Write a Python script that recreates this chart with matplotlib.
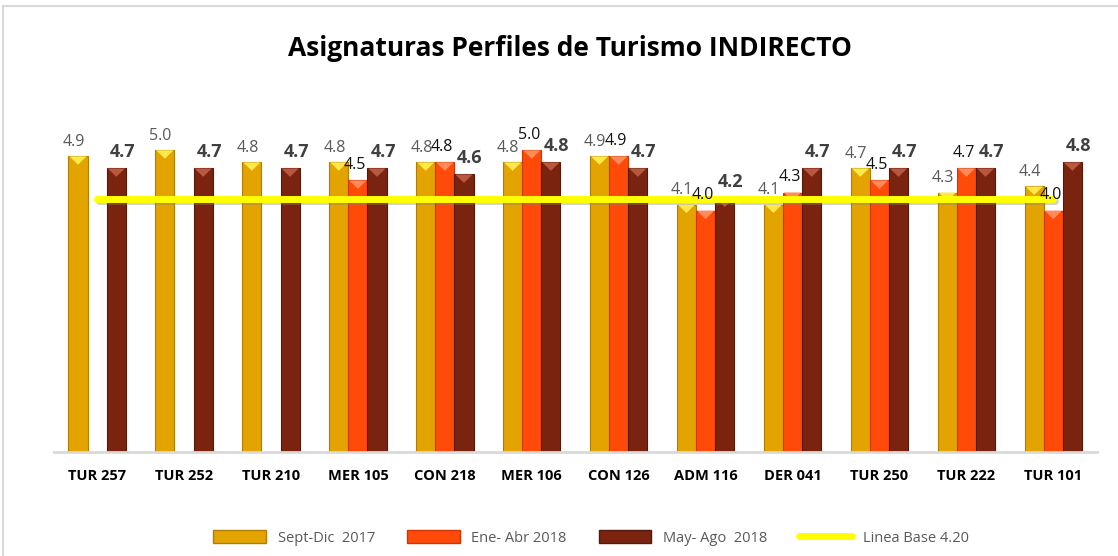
import matplotlib
matplotlib.use("Agg")
import matplotlib.pyplot as plt
import matplotlib.patheffects as pe
from matplotlib.patches import Polygon, Rectangle, Patch
from matplotlib.lines import Line2D
import numpy as np

categories = ["TUR 257", "TUR 252", "TUR 210", "MER 105", "CON 218", "MER 106",
              "CON 126", "ADM 116", "DER 041", "TUR 250", "TUR 222", "TUR 101"]
sept_dic_2017 = [4.9, 5.0, 4.8, 4.8, 4.8, 4.8, 4.9, 4.1, 4.1, 4.7, 4.3, 4.4]
ene_abr_2018 = [None, None, None, 4.5, 4.8, 5.0, 4.9, 4.0, 4.3, 4.5, 4.7, 4.0]
may_ago_2018 = [4.7, 4.7, 4.7, 4.7, 4.6, 4.8, 4.7, 4.2, 4.7, 4.7, 4.7, 4.8]
linea_base = [4.2, 4.2, 4.2, 4.2, 4.2, 4.2, 4.2, 4.2, 4.2, 4.2, 4.2, 4.2]

series_names = ["Sept-Dic  2017", "Ene- Abr 2018", "May- Ago  2018"]
line_name = "Linea Base 4.20"

fig = plt.figure(figsize=(11.18, 5.56), dpi=100)
fig.patches.append(Rectangle((0.003, -0.01), 1.2, 1.0, transform=fig.transFigure,
                             fill=False, edgecolor="#D9D9D9", linewidth=1.5))
ax = fig.add_axes([0.048, 0.187, 0.933, 0.597])

x = np.arange(len(categories))
w = 0.22
colors = ["#E3A300", "#FF4A0A", "#7A2410"]
edges = ["#B07E00", "#D13500", "#561808"]
tops = ["#FFE84A", "#FF8A5A", "#B8583F"]
offsets = [-w, 0.0, w]
all_series = [sept_dic_2017, ene_abr_2018, may_ago_2018]

for k, (vals, off) in enumerate(zip(all_series, offsets)):
    v = np.array([np.nan if a is None else a for a in vals], dtype=float)
    bars = ax.bar(x + off, np.nan_to_num(v, nan=0.0), width=w, color=colors[k],
                  edgecolor=edges[k], linewidth=0.8, zorder=2)
    for b, val in zip(bars, v):
        if np.isnan(val):
            b.set_visible(False)
            continue
        bx, bw, bh = b.get_x(), b.get_width(), b.get_height()
        tri = Polygon([(bx + 0.01, bh), (bx + bw - 0.01, bh), (bx + bw / 2, bh - 0.14)],
                      closed=True, facecolor=tops[k], edgecolor="none", zorder=3)
        ax.add_patch(tri)

# value labels
for xi, val in zip(x, sept_dic_2017):
    ax.text(xi + offsets[0] - 0.05, val + 0.11, f"{val:.1f}", ha="center", va="bottom",
            fontsize=11.5, color="#595959", family="Open Sans", zorder=5)
for xi, val in zip(x, ene_abr_2018):
    if val is None:
        continue
    ax.text(xi + offsets[1] - 0.03, val + 0.12, f"{val:.1f}", ha="center", va="bottom",
            fontsize=11.5, color="#111111", family="Open Sans", zorder=5)
for xi, val in zip(x, may_ago_2018):
    ax.text(xi + offsets[2] + 0.07, val + 0.12, f"{val:.1f}", ha="center", va="bottom",
            fontsize=13, color="#404040", family="Open Sans", fontweight="bold", zorder=5)

ax.plot(x, linea_base, color="#FFFF00", linewidth=5, solid_capstyle="round", zorder=4,
        path_effects=[pe.SimpleLineShadow(offset=(1.5, -2), shadow_color="gray", alpha=0.35),
                      pe.Normal()])

ax.set_xlim(-0.5, len(categories) - 0.5)
ax.set_ylim(0, 5.5)
ax.set_yticks([])
ax.set_xticks(x)
ax.set_xticklabels(categories, fontsize=10.5, fontweight="bold", family="Open Sans")
ax.tick_params(axis="x", length=0, pad=12)
for s in ["top", "right", "left"]:
    ax.spines[s].set_visible(False)
ax.spines["bottom"].set_color("#D9D9D9")
ax.spines["bottom"].set_linewidth(2)

fig.text(0.51, 0.913, "Asignaturas Perfiles de Turismo INDIRECTO", ha="center", va="center",
         fontsize=19, fontweight="bold", family="Open Sans")

handles = [Patch(facecolor=colors[k], edgecolor=edges[k]) for k in range(3)]
handles.append(Line2D([0], [0], color="#FFFF00", linewidth=5, solid_capstyle="round"))
leg = fig.legend(handles, series_names + [line_name], loc="lower center",
                 bbox_to_anchor=(0.529, -0.005), ncol=4, frameon=False,
                 handlelength=3.6, handleheight=1.0, columnspacing=2.2,
                 prop={"family": "Open Sans", "size": 10.5})
for t in leg.get_texts():
    t.set_color("#595959")

fig.savefig("out.png", dpi=100)
